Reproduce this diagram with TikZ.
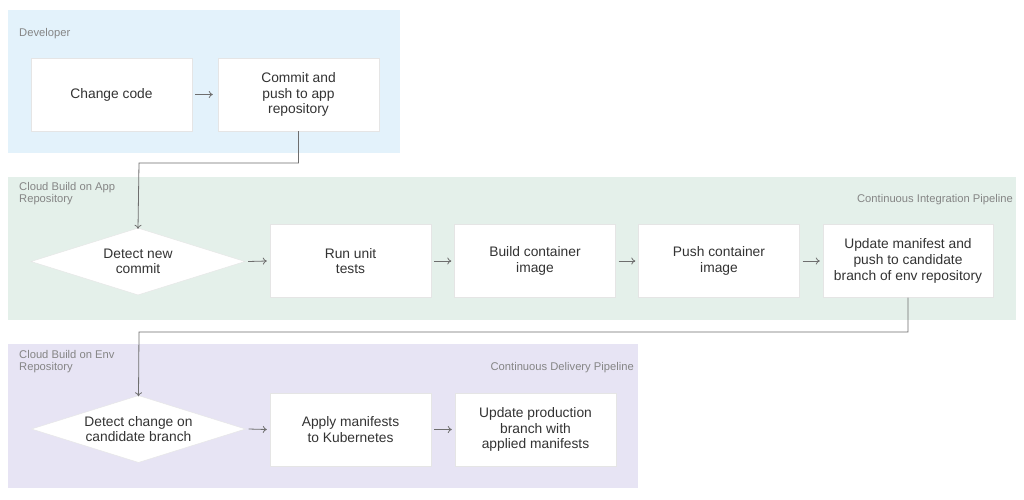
\documentclass[tikz,border=0pt]{standalone}
\usepackage{fontspec}
\setmainfont{Liberation Sans}
\usetikzlibrary{shapes.geometric,arrows.meta}
\definecolor{devbg}{HTML}{E3F2FB}
\definecolor{cibg}{HTML}{E4F0EA}
\definecolor{cdbg}{HTML}{E7E4F4}
\definecolor{txt}{HTML}{333333}
\definecolor{lbl}{HTML}{858585}
\definecolor{ln}{HTML}{6E6E6E}
\tikzset{
  panel/.style={fill=#1, draw=none},
  stepbox/.style={draw=black!10, fill=white, minimum width=161pt, minimum height=73pt, inner sep=0pt,
    align=center, font=\fontsize{13.8}{15.6}\selectfont, text=txt},
  decision/.style={diamond, draw=black!10, fill=white, aspect=3.2, inner sep=0pt, minimum width=214pt, minimum height=67pt,
    align=center, font=\fontsize{13.8}{15.6}\selectfont, text=txt},
  grouplabel/.style={font=\fontsize{11.2}{12}\selectfont, text=lbl, inner sep=0pt},
  flow/.style={draw=ln, line width=0.8pt, -{To[length=4pt,width=7pt]}},
}
\begin{document}
\begin{tikzpicture}[x=1pt,y=-1pt]
\useasboundingbox (0,0) rectangle (1024,499);
\fill[white] (0,0) rectangle (1024,499);
% panels
\path[panel=devbg] (8,10) rectangle (400,153);
\path[panel=cibg] (8,177) rectangle (1016,320);
\path[panel=cdbg] (8,344) rectangle (638,488);
% panel labels
\node[grouplabel, anchor=base west] (ldev) at (19,36) {Developer};
\node[grouplabel, anchor=base west, align=left] (lci) at (19,202) {Cloud Build on App\\Repository};
\node[grouplabel, anchor=base east] (lcir) at (1013,202) {Continuous Integration Pipeline};
\node[grouplabel, anchor=base west, align=left] (lcd) at (19,370) {Cloud Build on Env\\Repository};
\node[grouplabel, anchor=base east] (lcdr) at (634,370) {Continuous Delivery Pipeline};
% developer
\node[stepbox] (change) at (111.5,94.5) {Change code};
\node[stepbox] (commit) at (298.5,94.5) {Commit and\\push to app\\repository};
% CI
\node[decision] (detect) at (138,261.5) {Detect new\\commit};
\node[stepbox] (unit) at (350.5,261) {Run unit\\tests};
\node[stepbox] (build) at (535,261) {Build container\\image};
\node[stepbox] (push) at (719,261) {Push container\\image};
\node[stepbox, minimum width=170pt] (update) at (908,261) {Update manifest and\\push to candidate\\branch of env repository};
% CD
\node[decision] (detectcd) at (138.5,429) {Detect change on\\candidate branch};
\node[stepbox] (apply) at (350.5,429.5) {Apply manifests\\to Kubernetes};
\node[stepbox] (prod) at (535.5,429.5) {Update production\\branch with\\applied manifests};
% connectors
\draw[flow] ([xshift=3pt]change.east) -- ([xshift=-5pt]commit.west);
\draw[flow] (commit.south) |- (139,163) -- ([yshift=-1pt]detect.north);
\draw[flow] ([xshift=3pt]detect.east) -- ([xshift=-3pt]unit.west);
\draw[flow] ([xshift=3pt]unit.east) -- ([xshift=-3pt]build.west);
\draw[flow] ([xshift=3pt]build.east) -- ([xshift=-3pt]push.west);
\draw[flow] ([xshift=3pt]push.east) -- ([xshift=-3pt]update.west);
\draw[flow] (update.south) |- (139,332) -- ([yshift=-1pt]detectcd.north);
\draw[flow] ([xshift=3pt]detectcd.east) -- ([xshift=-3pt]apply.west);
\draw[flow] ([xshift=3pt]apply.east) -- ([xshift=-3pt]prod.west);
\end{tikzpicture}
\end{document}
